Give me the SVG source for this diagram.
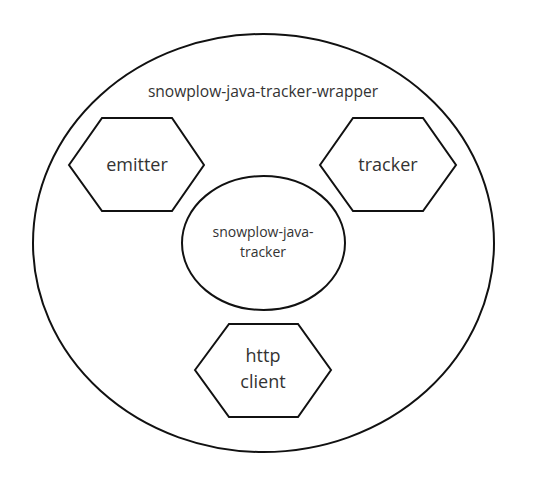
<svg xmlns="http://www.w3.org/2000/svg" width="535" height="486" viewBox="0 0 535 486">
<style>
.s{fill:#fff;stroke:#111;stroke-width:2}
text{font-family:"Open Sans","Noto Sans",sans-serif;fill:#333;text-anchor:middle}
.l{font-size:18px}
.m{font-size:14px}
.w{font-size:15.6px}
</style>
<rect width="535" height="486" fill="#fff"/>
<g id="wrapper">
<ellipse class="s" cx="263.5" cy="243" rx="230.5" ry="209"/>
<text class="w" x="263" y="97">snowplow-java-tracker-wrapper</text>
</g>
<g id="emitter">
<polygon class="s" points="69,165 102,118 172,118 204,165 172,211 102,211"/>
<text class="l" x="137" y="171">emitter</text>
</g>
<g id="tracker">
<polygon class="s" points="320,165 353,118 423,118 456,165 423,211 353,211"/>
<text class="l" x="388" y="171">tracker</text>
</g>
<g id="java-tracker">
<ellipse class="s" cx="263.5" cy="243" rx="81.5" ry="67"/>
<text class="m" x="263" y="237">snowplow-java-</text>
<text class="m" x="263" y="257">tracker</text>
</g>
<g id="http-client">
<polygon class="s" points="195,370 229,324 298,324 331,370 298,417 229,417"/>
<text class="l" x="263" y="362">http</text>
<text class="l" x="263" y="388">client</text>
</g>
<g id="connectors"></g>
</svg>
